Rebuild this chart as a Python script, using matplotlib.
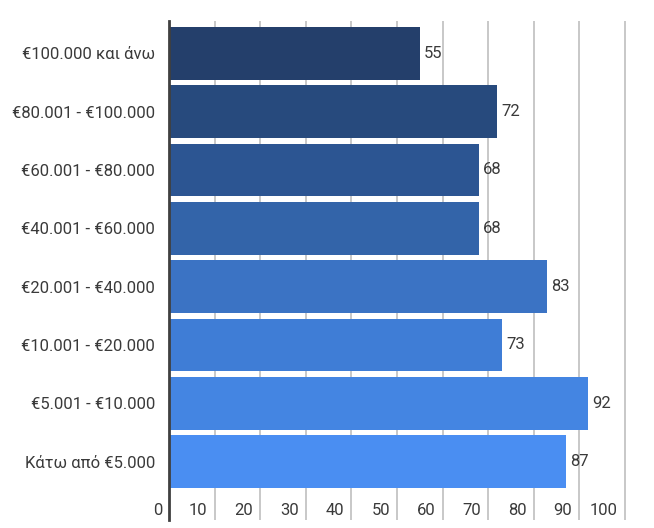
import matplotlib.pyplot as plt
import matplotlib.transforms as mtransforms

plt.rcParams["font.family"] = ["Roboto", "DejaVu Sans"]

OUT_PATH = "out.png"

categories = [
    "€100.000 και άνω",
    "€80.001 - €100.000",
    "€60.001 - €80.000",
    "€40.001 - €60.000",
    "€20.001 - €40.000",
    "€10.001 - €20.000",
    "€5.001 - €10.000",
    "Κάτω από €5.000",
]
values = [55, 72, 68, 68, 83, 73, 92, 87]
bar_colors = [
    "#243f6b", "#274a7d", "#2c5592", "#3364a9",
    "#3b73c4", "#3f7dd6", "#4485e2", "#4a8ef2",
]
x_ticks = [0, 10, 20, 30, 40, 50, 60, 70, 80, 90, 100]

TEXT = "#3a3a3a"

fig = plt.figure(figsize=(6.54, 5.28), dpi=100)
# plot area roughly x=169..650 px, y=21..520 px
ax = fig.add_axes([169 / 654, 8 / 528, 481 / 654, 499 / 528])

ypos = list(range(len(categories)))
bars = ax.barh(ypos, values, height=0.9, color=bar_colors, zorder=3)
ax.bar_label(bars, labels=[str(v) for v in values], padding=3,
             fontsize=12, color=TEXT, zorder=4)

ax.set_yticks(ypos)
ax.set_yticklabels(categories, fontsize=12, color=TEXT)
ax.set_ylim(8.0, -0.553)
ax.set_xlim(0, 105.5)

ax.set_xticks(x_ticks)
ax.set_xticklabels([str(t) for t in x_ticks], fontsize=12, color=TEXT)
ax.tick_params(axis="x", length=0, pad=-12)
ax.tick_params(axis="y", length=0, pad=10)
# labels sit just left of their gridline
shift = mtransforms.ScaledTranslation(-7 / 100, 0, fig.dpi_scale_trans)
for lbl in ax.get_xticklabels():
    lbl.set_horizontalalignment("right")
    lbl.set_transform(lbl.get_transform() + shift)

ax.grid(axis="x", color="#c8c8c8", linewidth=1.4, zorder=0)
for side in ("top", "right", "bottom"):
    ax.spines[side].set_visible(False)
ax.spines["left"].set_color("#404040")
ax.spines["left"].set_linewidth(2)
ax.spines["left"].set_zorder(5)

fig.savefig(OUT_PATH, dpi=100)
